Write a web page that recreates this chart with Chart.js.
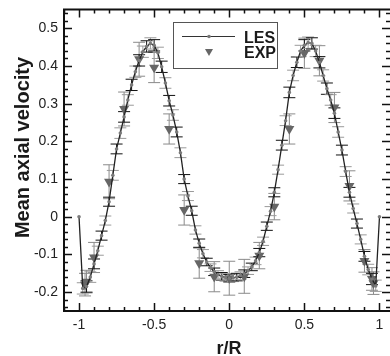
<!DOCTYPE html>
<html>
<head>
<meta charset="utf-8">
<script src="https://cdn.jsdelivr.net/npm/chart.js@4/dist/chart.umd.min.js"></script>
<style>
  html, body { margin: 0; padding: 0; background: #fff; overflow: hidden; }
  #velocity { display: block; }
</style>
</head>
<body>
<canvas id="velocity" width="390" height="356"></canvas>
<script>
// LES profile (r/R, mean axial velocity, error)
var lesR = [
  -1, -0.975, -0.95, -0.925, -0.9, -0.875, -0.85, -0.825, -0.8, -0.775,
  -0.75, -0.725, -0.7, -0.675, -0.65, -0.625, -0.6, -0.575, -0.55, -0.525,
  -0.5, -0.475, -0.45, -0.425, -0.4, -0.375, -0.35, -0.325, -0.3, -0.275,
  -0.25, -0.225, -0.2, -0.175, -0.15, -0.125, -0.1, -0.075, -0.05, -0.025,
  0, 0.025, 0.05, 0.075, 0.1, 0.125, 0.15, 0.175, 0.2, 0.225,
  0.25, 0.275, 0.3, 0.325, 0.35, 0.375, 0.4, 0.425, 0.45, 0.475,
  0.5, 0.525, 0.55, 0.575, 0.6, 0.625, 0.65, 0.675, 0.7, 0.725,
  0.75, 0.775, 0.8, 0.825, 0.85, 0.875, 0.9, 0.925, 0.95, 0.975,
  1
];
var lesU = [
  0, -0.19, -0.185, -0.16, -0.125, -0.09, -0.05, -0.01, 0.04, 0.11,
  0.18, 0.222, 0.265, 0.31, 0.35, 0.385, 0.415, 0.438, 0.452, 0.46,
  0.455, 0.435, 0.398, 0.355, 0.308, 0.27, 0.225, 0.17, 0.1, 0.055,
  0.016, -0.035, -0.07, -0.098, -0.12, -0.135, -0.146, -0.153, -0.158, -0.161,
  -0.163, -0.162, -0.16, -0.156, -0.151, -0.143, -0.133, -0.117, -0.095, -0.065,
  -0.025, 0.015, 0.065, 0.125, 0.19, 0.255, 0.33, 0.375, 0.41, 0.44,
  0.455, 0.462, 0.46, 0.44, 0.41, 0.375, 0.34, 0.31, 0.275, 0.225,
  0.177, 0.12, 0.065, 0.022, -0.018, -0.06, -0.105, -0.14, -0.165, -0.183,
  0
];
var lesErr = [
  0, 0.015, 0.015, 0.014, 0.013, 0.012, 0.012, 0.012, 0.012, 0.013,
  0.013, 0.014, 0.014, 0.014, 0.015, 0.015, 0.015, 0.015, 0.015, 0.015,
  0.015, 0.015, 0.015, 0.014, 0.014, 0.014, 0.013, 0.013, 0.012, 0.012,
  0.012, 0.011, 0.011, 0.011, 0.01, 0.01, 0.01, 0.01, 0.01, 0.01,
  0.01, 0.01, 0.01, 0.01, 0.01, 0.01, 0.01, 0.01, 0.011, 0.011,
  0.011, 0.012, 0.012, 0.012, 0.013, 0.013, 0.014, 0.014, 0.014, 0.015,
  0.015, 0.015, 0.015, 0.015, 0.015, 0.015, 0.015, 0.014, 0.014, 0.014,
  0.013, 0.013, 0.013, 0.012, 0.012, 0.012, 0.013, 0.014, 0.015, 0.015,
  0
];

// experiment
var expR = [-0.96, -0.95, -0.9, -0.8, -0.7, -0.6, -0.5, -0.4, -0.3, -0.2, -0.1, 0,
  0.1, 0.2, 0.3, 0.4, 0.5, 0.6, 0.7, 0.8, 0.9, 0.95, 0.96];
var expU = [-0.18, -0.172, -0.108, 0.093, 0.286, 0.418, 0.396, 0.233, 0.018, -0.123, -0.159, -0.163,
  -0.158, -0.103, 0.027, 0.233, 0.434, 0.414, 0.29, 0.082, -0.117, -0.165, -0.176];
var expErr = [0.03, 0.03, 0.04, 0.045, 0.045, 0.045, 0.04, 0.04, 0.04, 0.04, 0.04, 0.045,
  0.045, 0.035, 0.035, 0.04, 0.04, 0.04, 0.04, 0.04, 0.03, 0.03, 0.03];

// axes
var xTicks = [-1, -0.5, 0, 0.5, 1];
var yTicks = [-0.2, -0.1, 0, 0.1, 0.2, 0.3, 0.4, 0.5];
var xLabel = "r/R";
var yLabel = "Mean axial velocity";
var legendNames = ["LES", "EXP"];

var font = "'Liberation Sans', Arial, Helvetica, sans-serif";

function errBar(ctx, xs, ys, px, u, e, color, half) {
  var x = xs.getPixelForValue(px);
  var y1 = ys.getPixelForValue(u - e);
  var y2 = ys.getPixelForValue(u + e);
  ctx.strokeStyle = color;
  ctx.beginPath();
  ctx.moveTo(x, y1); ctx.lineTo(x, y2);
  ctx.moveTo(x - half, y1); ctx.lineTo(x + half, y1);
  ctx.moveTo(x - half, y2); ctx.lineTo(x + half, y2);
  ctx.stroke();
}

var decor = {
  id: "decor",
  beforeDatasetsDraw: function (chart) {
    var ctx = chart.ctx, xs = chart.scales.x, ys = chart.scales.y;
    ctx.save();
    ctx.lineWidth = 1;
    for (var i = 0; i < expR.length; i++) {
      errBar(ctx, xs, ys, expR[i], expU[i], expErr[i], "#8a8a8a", 6);
    }
    for (var j = 0; j < lesR.length; j++) {
      if (lesErr[j] === 0) continue;
      errBar(ctx, xs, ys, lesR[j], lesU[j], lesErr[j], j % 2 ? "#9a9a9a" : "#111", 6);
    }
    ctx.restore();
  },
  afterDraw: function (chart) {
    var ctx = chart.ctx, a = chart.chartArea, xs = chart.scales.x, ys = chart.scales.y;
    ctx.save();
    // inward ticks on all four sides
    ctx.strokeStyle = "#111";
    ctx.lineWidth = 1.5;
    ctx.beginPath();
    for (var k = -11; k <= 11; k++) {
      var v = k / 10;
      var px = Math.round(xs.getPixelForValue(v)) + 0.5;
      var len = (k % 5 === 0) ? 8 : 4;
      ctx.moveTo(px, a.bottom); ctx.lineTo(px, a.bottom - len);
      ctx.moveTo(px, a.top); ctx.lineTo(px, a.top + len);
    }
    for (var m = -12; m <= 27; m++) {
      var yv = m / 50;
      var py = Math.round(ys.getPixelForValue(yv)) + 0.5;
      var ylen = (m % 5 === 0) ? 8 : 4;
      ctx.moveTo(a.left, py); ctx.lineTo(a.left + ylen, py);
      ctx.moveTo(a.right, py); ctx.lineTo(a.right - ylen, py);
    }
    ctx.stroke();
    // frame: right side lies at the edge of the picture, so only three sides
    ctx.lineWidth = 2;
    ctx.beginPath();
    ctx.moveTo(a.right + 1, a.top); ctx.lineTo(a.left, a.top);
    ctx.lineTo(a.left, a.bottom); ctx.lineTo(a.right + 1, a.bottom);
    ctx.stroke();

    // axis titles
    ctx.fillStyle = "#1a1a1a";
    ctx.font = "bold 18px " + font;
    ctx.textAlign = "center";
    ctx.textBaseline = "alphabetic";
    ctx.fillText(xLabel, 229, 354);
    ctx.save();
    ctx.translate(28.5, 147.5);
    ctx.rotate(-Math.PI / 2);
    ctx.font = "bold 20px " + font;
    ctx.fillText(yLabel, 0, 0);
    ctx.restore();

    // legend box
    ctx.lineWidth = 1;
    ctx.strokeStyle = "#555";
    ctx.strokeRect(173.5, 22.5, 104, 46);
    ctx.strokeStyle = "#333";
    ctx.beginPath();
    ctx.moveTo(182, 36.5); ctx.lineTo(235, 36.5);
    ctx.stroke();
    ctx.fillStyle = "#777";
    ctx.beginPath();
    ctx.arc(209, 36.5, 1.8, 0, Math.PI * 2);
    ctx.fill();
    ctx.fillStyle = "#666";
    ctx.beginPath();
    ctx.moveTo(205, 49); ctx.lineTo(213, 49); ctx.lineTo(209, 56);
    ctx.closePath();
    ctx.fill();
    ctx.fillStyle = "#1a1a1a";
    ctx.font = "bold 16px " + font;
    ctx.textAlign = "left";
    ctx.fillText(legendNames[0], 244, 43);
    ctx.fillText(legendNames[1], 244, 58);
    ctx.restore();
  }
};

var lesPoints = lesR.map(function (r, i) { return { x: r, y: lesU[i] }; });
var expPoints = expR.map(function (r, i) { return { x: r, y: expU[i] }; });

new Chart("velocity", {
  type: "scatter",
  data: {
    datasets: [
      {
        label: legendNames[0],
        data: lesPoints,
        showLine: true,
        borderColor: "#222",
        borderWidth: 1.3,
        pointRadius: 1.8,
        pointBackgroundColor: "#7a7a7a",
        pointBorderWidth: 0,
        order: 0
      },
      {
        label: legendNames[1],
        data: expPoints,
        pointStyle: "triangle",
        rotation: 180,
        pointRadius: 5.8,
        pointBackgroundColor: "#666",
        pointBorderColor: "#666",
        pointBorderWidth: 0,
        order: 1
      }
    ]
  },
  options: {
    responsive: false,
    animation: false,
    devicePixelRatio: 1,
    layout: { autoPadding: false, padding: { left: 0, top: 9.5, right: 0, bottom: 0 } },
    plugins: {
      legend: { display: false },
      tooltip: { enabled: false }
    },
    scales: {
      x: {
        type: "linear",
        min: -1.1,
        max: 1.07,
        afterBuildTicks: function (s) { s.ticks = xTicks.map(function (v) { return { value: v }; }); },
        afterFit: function (s) { s.height = 45; s.paddingLeft = 0; s.paddingRight = 0; },
        grid: { display: false, drawTicks: false },
        border: { display: false },
        ticks: {
          padding: 6,
          color: "#222",
          font: { family: font, size: 14 },
          callback: function (v) { return String(v); }
        }
      },
      y: {
        type: "linear",
        min: -0.25,
        max: 0.55,
        afterBuildTicks: function (s) { s.ticks = yTicks.map(function (v) { return { value: v }; }); },
        afterFit: function (s) { s.width = 64; s.paddingTop = 0; s.paddingBottom = 0; },
        grid: { display: false, drawTicks: false },
        border: { display: false },
        ticks: {
          padding: 6,
          color: "#222",
          font: { family: font, size: 14 },
          callback: function (v) { return String(v); }
        }
      }
    }
  },
  plugins: [decor]
});
</script>
</body>
</html>
